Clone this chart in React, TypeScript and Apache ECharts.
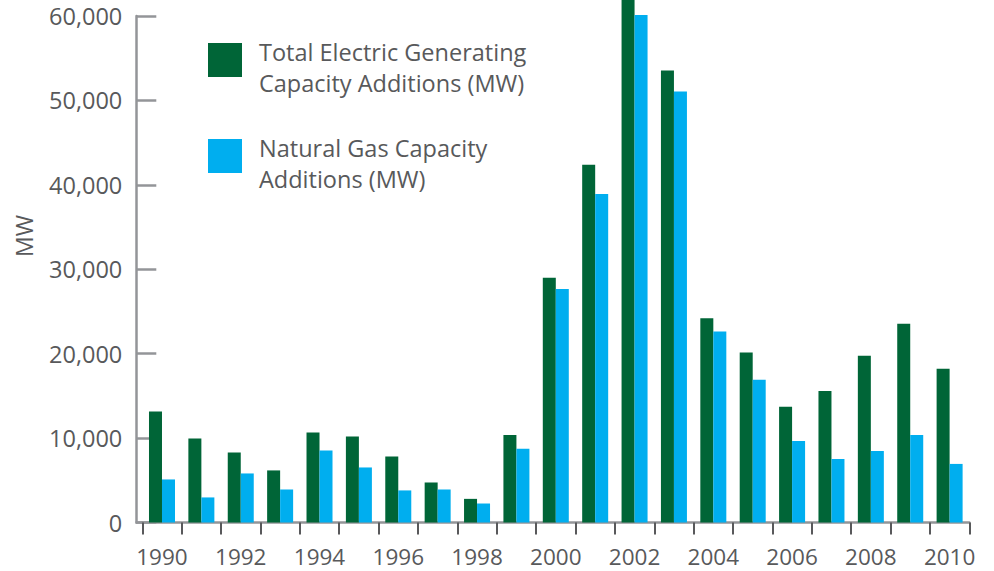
import React, { useEffect, useRef } from "react";
import * as echarts from "echarts";

const years = ["1990","1991","1992","1993","1994","1995","1996","1997","1998","1999","2000","2001","2002","2003","2004","2005","2006","2007","2008","2009","2010"];
const totalAdditions = [13160, 9960, 8300, 6170, 10670, 10200, 7830, 4740, 2800, 10380, 29000, 42370, 62600, 53550, 24190, 20130, 13700, 15590, 19740, 23540, 18200];
const gasAdditions = [5100, 2970, 5810, 3910, 8540, 6520, 3800, 3910, 2250, 8730, 27670, 38920, 60120, 51050, 22640, 16920, 9660, 7530, 8480, 10380, 6940];
const totalName = "Total Electric Generating\nCapacity Additions (MW)";
const gasName = "Natural Gas Capacity\nAdditions (MW)";

const FONT = "'Open Sans', sans-serif";
const TEXT = "#58595b";
const GREEN = "#006537";
const BLUE = "#00aeef";

export default function App() {
  const ref = useRef<HTMLDivElement>(null);
  useEffect(() => {
    if (!ref.current) return;
    const chart = echarts.init(ref.current, undefined, { renderer: "svg" });
    const legendText = (text: string, top: number) => ({
      type: "text",
      x: 259,
      y: top,
      silent: true,
      style: { text, fontFamily: FONT, fontSize: 23.5, lineHeight: 31, fill: TEXT, align: "left", verticalAlign: "top" },
    });
    chart.setOption({
      animation: false,
      backgroundColor: "#ffffff",
      grid: { left: 142.3, right: 24.7, top: 16, bottom: 48.5, containLabel: false },
      xAxis: {
        type: "category",
        data: years,
        axisLine: { show: true, lineStyle: { color: "#939598", width: 2.5 } },
        axisTick: { show: true, interval: 0, length: 12, inside: false, lineStyle: { color: TEXT, width: 2 } },
        axisLabel: { interval: 1, margin: 23.5, fontFamily: FONT, fontSize: 22.5, lineHeight: 20, color: TEXT },
        splitLine: { show: false },
      },
      yAxis: {
        type: "value",
        min: 0,
        max: 60000,
        interval: 10000,
        offset: 6,
        axisLine: { show: true, lineStyle: { color: "#939598", width: 2.5 } },
        axisTick: { show: true, inside: true, length: 20, lineStyle: { color: "#939598", width: 2.5 } },
        axisLabel: {
          margin: 14,
          fontFamily: FONT,
          fontSize: 23.5,
          color: TEXT,
          formatter: (v: number) => v.toLocaleString("en-US"),
        },
        splitLine: { show: false },
      },
      graphic: [
        { type: "line", shape: { x1: 135.5, y1: 522.5, x2: 143, y2: 522.5 }, style: { stroke: "#939598", lineWidth: 2.5 }, silent: true },
        {
          type: "text",
          x: 24,
          y: 236,
          rotation: Math.PI / 2,
          style: { text: "MW", fontFamily: FONT, fontSize: 23, fill: TEXT, align: "center", verticalAlign: "middle" },
          silent: true,
        },
        { type: "rect", shape: { x: 208, y: 43, width: 34, height: 34 }, style: { fill: GREEN }, silent: true },
        legendText(totalName, 36.5),
        { type: "rect", shape: { x: 208, y: 139, width: 34, height: 34 }, style: { fill: BLUE }, silent: true },
        legendText(gasName, 132.5),
      ],
      series: [
        { name: totalName, type: "bar", data: totalAdditions, barWidth: 13, barGap: "0%", clip: false, itemStyle: { color: GREEN } },
        { name: gasName, type: "bar", data: gasAdditions, barWidth: 13, barGap: "0%", clip: false, itemStyle: { color: BLUE } },
      ],
    });
    return () => chart.dispose();
  }, []);
  return <div ref={ref} style={{ position: "absolute", left: 0, top: 0, width: 994, height: 571 }} />;
}
